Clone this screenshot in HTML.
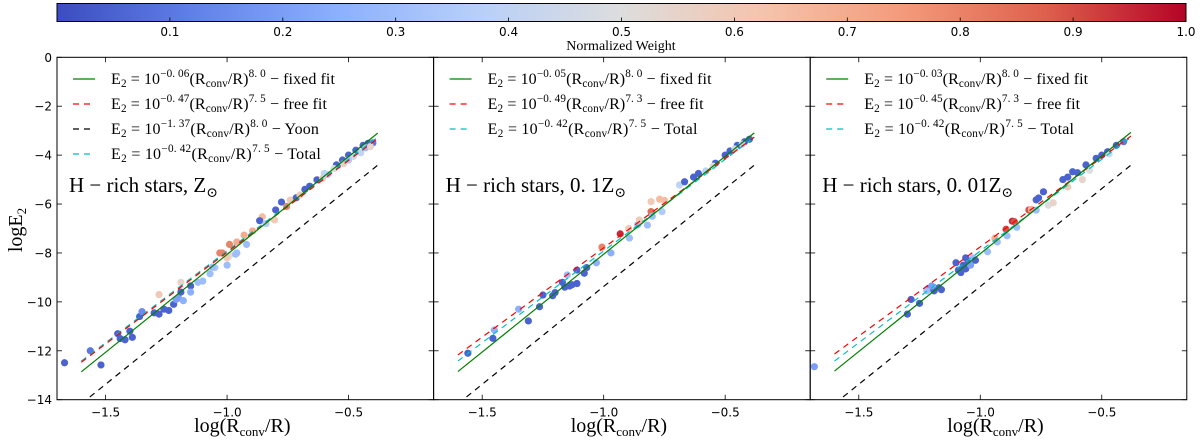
<!DOCTYPE html>
<html><head><meta charset="utf-8">
<style>
html,body{margin:0;padding:0;background:#fff;}
svg{display:block;}
.tk{font-family:"DejaVu Sans","Liberation Sans",sans-serif;font-size:12px;fill:#000;}
.sr{font-family:"Liberation Serif","DejaVu Serif",serif;fill:#000;}
</style></head>
<body>
<svg id="chart" width="1200" height="442" viewBox="0 0 1200 442" xmlns="http://www.w3.org/2000/svg">
<defs>
<linearGradient id="cw" x1="0" x2="1" y1="0" y2="0">
<stop offset="0" stop-color="#3b4cc0"/><stop offset="0.125" stop-color="#6282ea"/>
<stop offset="0.25" stop-color="#8db0fe"/><stop offset="0.375" stop-color="#b8d0f9"/>
<stop offset="0.5" stop-color="#dddddd"/><stop offset="0.625" stop-color="#f5c4ad"/>
<stop offset="0.75" stop-color="#f49a7b"/><stop offset="0.875" stop-color="#de604d"/>
<stop offset="1" stop-color="#b40426"/>
</linearGradient>
</defs>
</svg>
<script>
// ---- data ----
const cbTicks = [0.1,0.2,0.3,0.4,0.5,0.6,0.7,0.8,0.9,1.0];
const xTicks = [-1.5,-1.0,-0.5];
const yTicks = [0,-2,-4,-6,-8,-10,-12,-14];
const panelTitles = ["Z", "0.1Z", "0.01Z"];
const fixedA = [-0.06,-0.05,-0.03];
const freeA = [-0.47,-0.49,-0.45];
const freeB = [7.5,7.3,7.3];
const totalA = [-0.42,-0.42,-0.42];
const totalB = [7.5,7.5,7.5];
const yoonA = -1.37;
const p1x = [-1.669,-1.563,-1.519,-1.45,-1.44,-1.42,-1.40,-1.39,-1.36,-1.35,-1.28,-1.30,-1.28,-1.26,-1.24,-1.22,-1.21,-1.20,-1.19,-1.18,-1.19,-1.15,-1.15,-1.12,-1.10,-1.07,-1.05,-1.02,-1.0,-0.99,-0.96,-1.06,-1.03,-1.0,-0.965,-0.99,-0.96,-0.92,-0.93,-0.895,-0.855,-0.866,-0.84,-0.805,-0.80,-0.776,-0.755,-0.74,-0.715,-0.70,-0.68,-0.66,-0.63,-0.607,-0.586,-0.55,-0.525,-0.5,-0.47,-0.44,-0.42,-0.40,-0.52,-0.48,-0.45,-0.43,-0.41,-0.60,-0.56,-0.50];
const p1y = [-12.49,-12.0,-12.58,-11.3,-11.5,-11.55,-11.2,-11.45,-10.6,-10.4,-9.7,-10.45,-10.5,-10.3,-10.35,-10.1,-9.9,-9.85,-9.6,-9.95,-9.2,-9.35,-9.6,-9.2,-9.15,-8.85,-8.6,-8.0,-8.5,-8.1,-8.0,-8.58,-8.0,-8.2,-8.05,-7.65,-7.55,-7.65,-7.27,-7.1,-6.52,-6.68,-6.8,-6.65,-6.24,-5.92,-6.1,-5.84,-5.74,-5.63,-5.4,-5.27,-5.01,-4.95,-4.8,-4.4,-4.2,-4.0,-3.8,-3.6,-3.52,-3.5,-4.35,-4.05,-3.9,-3.7,-3.65,-4.75,-4.55,-4.2];
const p1w = [0.05,0.1,0.05,0.05,0.05,0.05,0.05,0.05,0.05,0.15,0.6,0.05,0.05,0.05,0.05,0.05,0.2,0.2,0.05,0.25,0.55,0.05,0.25,0.3,0.3,0.3,0.35,0.8,0.3,0.5,0.3,0.3,0.8,0.6,0.3,0.8,0.7,0.3,0.7,0.7,0.65,0.05,0.35,0.6,0.05,0.05,0.8,0.6,0.05,0.6,0.05,0.05,0.05,0.6,0.35,0.05,0.05,0.05,0.05,0.05,0.05,0.1,0.55,0.45,0.4,0.3,0.55,0.4,0.5,0.35];
const p2x = [-1.559,-1.456,-1.45,-1.31,-1.35,-1.264,-1.25,-1.20,-1.21,-1.16,-1.14,-1.13,-1.11,-1.17,-1.15,-1.11,-1.08,-1.07,-1.03,-1.007,-0.97,-0.932,-0.894,-0.897,-0.86,-0.853,-0.82,-0.805,-0.80,-0.76,-0.805,-0.77,-0.75,-0.688,-0.667,-0.63,-0.61,-0.58,-0.54,-0.5,-0.48,-0.45,-0.42,-0.40,-0.55,-0.46,-0.43];
const p2y = [-12.1,-11.49,-11.15,-10.78,-10.3,-10.2,-9.72,-9.62,-9.75,-9.4,-9.35,-9.3,-9.25,-9.2,-8.9,-8.7,-8.83,-8.6,-8.4,-7.76,-8.0,-7.22,-7.39,-7.0,-6.85,-6.65,-6.86,-6.31,-6.5,-6.31,-5.9,-5.8,-5.85,-5.22,-5.09,-4.9,-4.75,-4.65,-4.33,-4.0,-3.83,-3.6,-3.45,-3.35,-4.45,-3.75,-3.55];
const p2w = [0.05,0.05,0.25,0.05,0.25,0.05,0.05,0.05,0.05,0.05,0.05,0.05,0.05,0.05,0.3,0.05,0.05,0.05,0.25,0.8,0.25,0.95,0.3,0.6,0.3,0.6,0.3,0.85,0.3,0.35,0.6,0.65,0.65,0.4,0.05,0.05,0.05,0.4,0.05,0.05,0.05,0.05,0.05,0.05,0.5,0.45,0.4];
const p3x = [-1.683,-1.30,-1.285,-1.25,-1.21,-1.19,-1.17,-1.16,-1.20,-1.22,-1.10,-1.09,-1.07,-1.06,-1.05,-1.04,-1.03,-1.02,-1.06,-1.08,-0.97,-0.94,-0.93,-0.894,-0.89,-0.868,-0.86,-0.85,-0.80,-0.79,-0.77,-0.77,-0.76,-0.74,-0.72,-0.70,-0.66,-0.64,-0.62,-0.60,-0.565,-0.523,-0.50,-0.476,-0.44,-0.41,-0.64,-0.58,-0.55,-0.47];
const p3y = [-12.65,-10.5,-9.9,-10.06,-9.45,-9.55,-9.42,-9.5,-9.35,-9.55,-8.4,-8.7,-8.5,-8.65,-8.4,-8.5,-8.2,-8.3,-8.2,-8.8,-7.95,-7.4,-7.55,-7.03,-7.3,-6.7,-6.72,-6.95,-6.24,-6.22,-6.25,-5.83,-5.75,-5.5,-6.05,-5.95,-5.0,-4.9,-4.68,-4.72,-4.4,-4.13,-4.0,-3.86,-3.6,-3.45,-5.3,-5.0,-4.62,-3.95];
const p3w = [0.2,0.05,0.05,0.05,0.05,0.05,0.05,0.05,0.2,0.3,0.05,0.05,0.05,0.05,0.05,0.2,0.3,0.05,0.05,0.05,0.3,0.7,0.3,0.9,0.3,0.95,0.9,0.3,0.9,0.7,0.3,0.05,0.05,0.05,0.5,0.55,0.05,0.05,0.05,0.05,0.05,0.05,0.05,0.05,0.05,0.1,0.6,0.55,0.5,0.45];

// ---- layout ----
const NS = "http://www.w3.org/2000/svg";
const svg = document.getElementById('chart');
const PX0 = [57, 433.6, 810.2], PW = 376.6, PT = 57.3, PB = 399.7;
const XMIN = -1.70, XMAX = -0.15, YMIN = -14, YMAX = 0;
function sx(p, v){ return PX0[p] + (v - XMIN) / (XMAX - XMIN) * PW; }
function sy(v){ return PT + (YMAX - v) / (YMAX - YMIN) * (PB - PT); }
const stops = [[59,76,192],[98,130,234],[141,176,254],[184,208,249],[221,221,221],[245,196,173],[244,154,123],[222,96,77],[180,4,38]];
function cmap(w){ w=Math.max(0,Math.min(1,w)); const f=w*8, i=Math.min(7,Math.floor(f)), t=f-i;
  const a=stops[i], b=stops[i+1]; return `rgb(${a.map((c,k)=>Math.round(c+(b[k]-c)*t)).join(',')})`; }
function mk(tag, attrs, parent){ const e=document.createElementNS(NS,tag); for(const k in attrs) e.setAttribute(k,attrs[k]); (parent||svg).appendChild(e); return e; }

// ---- colorbar ----
const CB0 = 57, CB1 = 1186;
const cb = mk('rect',{x:CB0,y:3.5,width:CB1-CB0,height:18,fill:'url(#cw)',stroke:'#000','stroke-width':1});


cbTicks.forEach(t=>{
  const x = CB0 + t*(CB1-CB0);
  const l = mk('line',{x1:x,x2:x,y1:17.5,y2:21.5,stroke:'#000','stroke-width':0.8});
  
  
  const tx = mk('text',{x:x,y:36,'text-anchor':'middle',class:'tk'});
  tx.textContent = t.toFixed(1);
  
  
});
const cbl = mk('text',{x:621,y:50,'text-anchor':'middle',class:'sr','font-size':'14px'});
cbl.textContent = 'Normalized Weight';



// ---- math helpers ----
function eqText(parent, x, y, a, b, label, fs, len){
  const t = mk('text',{x:x,y:y,class:'sr','font-size':fs+'px',textLength:len,lengthAdjust:'spacing'},parent);
  const parts = [['E',0],['2',-1],[' = 10',0],[(a<0?'−':'')+Math.abs(a).toFixed(2).replace('.', '. '),1],['(R',0],['conv',-1],['/R)',0],[b.toFixed(1).replace('.', '. '),1],[' − '+label,0]];
  parts.forEach(([s,m])=>{
    const ts = mk('tspan',{},t);
    if(m===1){ ts.setAttribute('font-size',(fs*0.7)+'px'); ts.setAttribute('dy','-7'); }
    if(m===-1){ ts.setAttribute('font-size',(fs*0.7)+'px'); ts.setAttribute('dy','3'); }
    ts.textContent = s;
    const back = mk('tspan',{'font-size':'1px',dy: m===1?'7':(m===-1?'-3':'0')},t);
    back.textContent = '\u200b';
  });
  return t;
}

// ---- panels ----
const PX = [p1x,p2x,p3x], PY=[p1y,p2y,p3y], PWt=[p1w,p2w,p3w];
const entryLen = {'fixed fit':224,'free fit':216,'Yoon':208,'Total':210};
for(let p=0;p<3;p++){
  const g = mk('g',{});
  
  
  const cp = mk('clipPath',{id:'cp'+p},g);
  mk('rect',{x:PX0[p],y:PT,width:PW,height:PB-PT},cp);
  const plot = mk('g',{'clip-path':`url(#cp${p})`},g);
  for(let i=0;i<PX[p].length;i++){
    const c = mk('circle',{cx:sx(p,PX[p][i]),cy:sy(PY[p][i]),r:3.6,fill:cmap(PWt[p][i])},plot);
    
    
  }
  const x0=-1.6, x1=-0.38;
  const lines = [
    {a:yoonA,b:8.0,col:'#000',dash:'6,5',name:'yoon-line'},
    {a:totalA[p],b:totalB[p],col:'#00bfbf',dash:'6,5',name:'total-fit-line'},
    {a:freeA[p],b:freeB[p],col:'#ff0000',dash:'6,5',name:'free-fit-line'},
    {a:fixedA[p],b:8.0,col:'#008000',dash:'',name:'fixed-fit-line'}];
  lines.forEach(L=>{
    const l = mk('line',{x1:sx(p,x0),y1:sy(L.a+L.b*x0),x2:sx(p,x1),y2:sy(L.a+L.b*x1),stroke:L.col,'stroke-width':1.2,'stroke-dasharray':L.dash},plot);
    
    
  });
  const fr = mk('rect',{x:PX0[p],y:PT,width:PW,height:PB-PT,fill:'none',stroke:'#000','stroke-width':1},g);
  
  
  xTicks.forEach(t=>{
    const x=sx(p,t);
    mk('line',{x1:x,x2:x,y1:PB,y2:PB-5,stroke:'#000','stroke-width':0.8},g);
    mk('line',{x1:x,x2:x,y1:PT,y2:PT+5,stroke:'#000','stroke-width':0.8},g);
    const tx=mk('text',{x:x,y:PB+17,'text-anchor':'middle',class:'tk'},g);
    tx.textContent = (t<0?'−':'')+Math.abs(t).toFixed(1);
    
    
  });
  yTicks.forEach(t=>{
    const y=sy(t);
    mk('line',{x1:PX0[p],x2:PX0[p]+5,y1:y,y2:y,stroke:'#000','stroke-width':0.8},g);
    mk('line',{x1:PX0[p]+PW,x2:PX0[p]+PW-5,y1:y,y2:y,stroke:'#000','stroke-width':0.8},g);
    if(p===0){
      const tx=mk('text',{x:PX0[p]-5,y:y+4.5,'text-anchor':'end',class:'tk'},g);
      tx.textContent = (t<0?'−':'')+Math.abs(t);
      
      
    }
  });
  const xl = mk('text',{x:PX0[p]+PW/2-3,y:432,'text-anchor':'middle',class:'sr','font-size':'20px'},g);
  xl.innerHTML = 'log(R<tspan font-size="13px" dy="4">conv</tspan><tspan dy="-4">/R)</tspan>';
  
  
  const lg = mk('g',{},g);
  
  
  const ents = [{a:fixedA[p],b:8.0,lab:'fixed fit',col:'#008000',dash:''},
                {a:freeA[p],b:freeB[p],lab:'free fit',col:'#ff0000',dash:'6,5'}];
  if(p===0) ents.push({a:yoonA,b:8.0,lab:'Yoon',col:'#000',dash:'6,5'});
  ents.push({a:totalA[p],b:totalB[p],lab:'Total',col:'#00bfbf',dash:'6,5'});
  ents.forEach((e,i)=>{
    const y = 79 + i*25;
    const ln = mk('line',{x1:PX0[p]+16,x2:PX0[p]+38,y1:y,y2:y,stroke:e.col,'stroke-width':1.2,'stroke-dasharray':e.dash},lg);
    
    
    const t = eqText(lg, PX0[p]+54, y+5, e.a, e.b, e.lab, 16, entryLen[e.lab]);
    
    
  });
  const tt = mk('text',{x:PX0[p]+12,y:192,class:'sr','font-size':'21px'},g);
  tt.innerHTML = 'H − rich stars, '+panelTitles[p].replace('0.','0. ')+'<tspan font-size="14px" dy="5">⊙</tspan>';
  
  
}
const yl = mk('text',{x:0,y:0,class:'sr','font-size':'20px','text-anchor':'middle',transform:'translate(22,230) rotate(-90)'});
yl.innerHTML = 'logE<tspan font-size="13px" dy="4">2</tspan>';


</script>
</body></html>
